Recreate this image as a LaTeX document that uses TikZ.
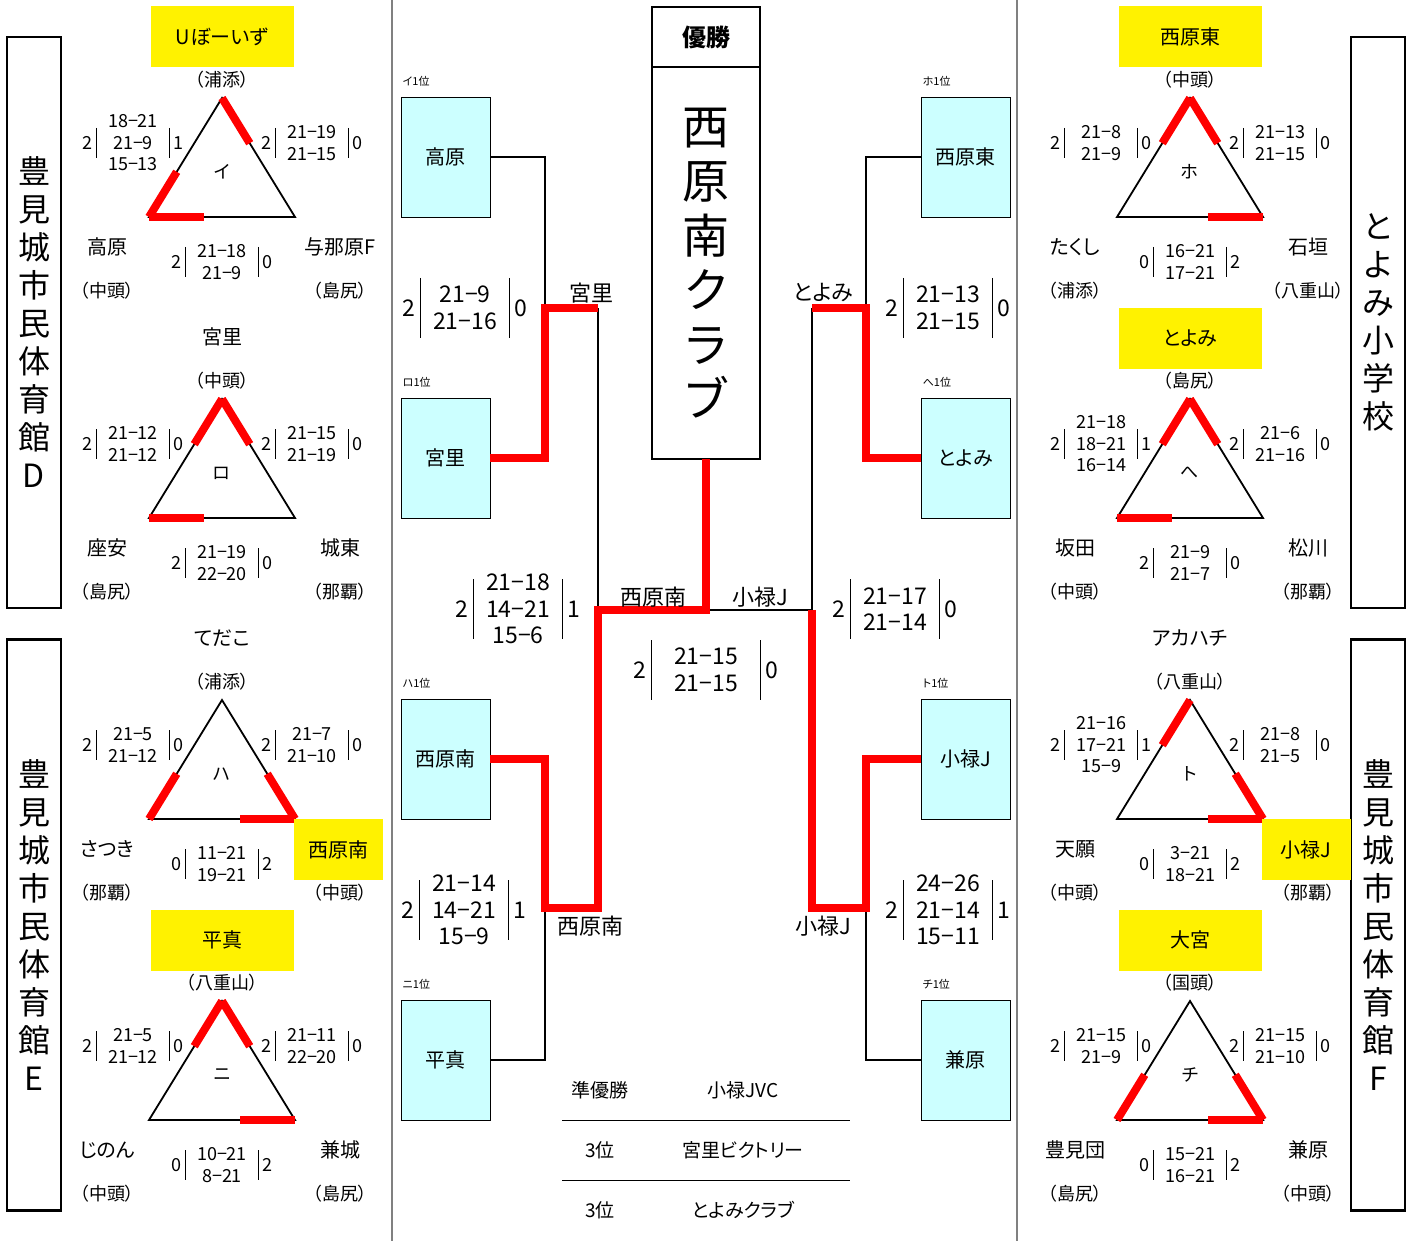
\documentclass[tikz,border=0pt]{standalone}
\usepackage{fontspec}
\setmainfont[RawFeature=+palt]{Noto Sans CJK JP}
\usetikzlibrary{positioning,calc}
\definecolor{qualcyan}{HTML}{CCFFFF}
\newcommand\namefont{\fontsize{20}{22}\selectfont}
\newcommand\preffont{\fontsize{18}{20}\selectfont}
\newcommand\kanafont{\fontsize{18}{20}\selectfont}
\newcommand\scorefont{\fontsize{18}{21.5}\selectfont}
\newcommand\bscorefont{\fontsize{23}{26.5}\selectfont}
\newcommand\bnamefont{\fontsize{22}{24}\selectfont}
\newcommand\hallfont{\fontsize{32}{38}\selectfont}
\newcommand\champfont{\fontsize{47}{54.5}\selectfont}
\newcommand\headfont{\fontsize{24}{28}\selectfont\bfseries}
\newcommand\rankfont{\fontsize{11}{12}\selectfont}
\newcommand\tblfont{\fontsize{19}{21}\selectfont}
\newcommand\scorebars[2]{\draw[scorebar] ([yshift=#2]#1.west) -- ([yshift=-#2]#1.west) ([yshift=#2]#1.east) -- ([yshift=-#2]#1.east);}
\tikzset{
  triedge/.style={line width=1.8pt},
  win/.style={red, line width=8pt},
  bline/.style={line width=2pt},
  scorebar/.style={line width=1pt},
  divider/.style={gray, line width=1.5pt},
  tblrule/.style={line width=1pt},
  team/.style={font=\namefont, inner sep=0pt},
  pref/.style={font=\preffont, inner sep=0pt},
  kana/.style={font=\kanafont, inner sep=0pt},
  seed/.style={fill=yellow, minimum width=143, minimum height=61, font=\namefont, inner sep=0pt},
  seedside/.style={seed, minimum width=89},
  score/.style={font=\scorefont, align=center, minimum width=72, inner sep=0pt},
  num/.style={font=\scorefont, inner sep=0pt},
  hall/.style={draw, line width=2.2pt, minimum width=54, minimum height=571, align=center, font=\hallfont, inner sep=0pt},
  qualbox/.style={draw, fill=qualcyan, line width=0.8pt, minimum width=89, minimum height=120, font=\namefont, inner sep=0pt},
  rank/.style={font=\rankfont, inner sep=0pt},
  bname/.style={font=\bnamefont, inner sep=0pt},
  bscore/.style={font=\bscorefont, align=center, minimum width=89, inner sep=0pt},
  bnum/.style={font=\bscorefont, inner sep=0pt},
  headbox/.style={draw, line width=2pt, outer sep=0pt, minimum width=108, minimum height=60, font=\headfont, inner sep=0pt},
  champbox/.style={draw, line width=2pt, outer sep=0pt, minimum width=108, minimum height=392, align=center, font=\champfont, inner sep=0pt},
  tbl/.style={font=\tblfont, inner sep=0pt}
}
\begin{document}
\begin{tikzpicture}[x=1pt,y=-1pt]
  \useasboundingbox (0,0) rectangle (1413,1241);
  \fill[white] (0,0) rectangle (1413,1241);

  % dividers and halls
  \coordinate (divLt) at (392,0);
  \coordinate (divLb) at (392,1241);
  \coordinate (divRt) at (1017,0);
  \coordinate (divRb) at (1017,1241);
  \draw[divider] (divLt) -- (divLb);
  \draw[divider] (divRt) -- (divRb);
  \node[hall] (hallD) at (34,322.5) {豊\\見\\城\\市\\民\\体\\育\\館\\D};
  \node[hall] (hallE) at (34,925) {豊\\見\\城\\市\\民\\体\\育\\館\\E};
  \node[hall] (hallT) at (1378,322.5) {と\\よ\\み\\小\\学\\校};
  \node[hall] (hallF) at (1378,925) {豊\\見\\城\\市\\民\\体\\育\\館\\F};

  % group I
  \begin{scope}[shift={(222,98)}]
    \coordinate (iA) at (0,0);
    \coordinate (iB) at (-73,119);
    \coordinate (iC) at (73,119);
    \draw[triedge] (iA) -- (iB) -- (iC) -- cycle;
    \draw[win] (iB) -- ($(iB)!0.38!(iA)$);
    \draw[win] (iA) -- ($(iA)!0.38!(iC)$);
    \draw[win] (iB) -- ($(iB)!0.38!(iC)$);
    \node[seed] (iTop) at (0,-61) {Uぼーいず};
    \node[pref] (iTopP) at (0,-18) {（浦添）};
    \node[kana] (iK) at (0,74) {イ};
    \node[score] (iL) at (-89,45) {18−21\\21−9\\15−13};
    \node[num, left=4pt of iL] (iL1) {2};
    \node[num, right=4pt of iL] (iL2) {1};
    \node[score] (iR) at (90,45) {21−19\\21−15};
    \node[num, left=4pt of iR] (iR1) {2};
    \node[num, right=4pt of iR] (iR2) {0};
    \node[score] (iM) at (0,164) {21−18\\21−9};
    \node[num, left=4pt of iM] (iM1) {2};
    \node[num, right=4pt of iM] (iM2) {0};
    \node[team] (iBL) at (-115,149) {高原};
    \node[pref] (iBLP) at (-115,193) {（中頭）};
    \node[team] (iBR) at (118,149) {与那原F};
    \node[pref] (iBRP) at (118,193) {（島尻）};
    \scorebars{iL}{15pt}
    \scorebars{iR}{15pt}
    \scorebars{iM}{15pt}
  \end{scope}

  % group RO
  \begin{scope}[shift={(222,399)}]
    \coordinate (roA) at (0,0);
    \coordinate (roB) at (-73,119);
    \coordinate (roC) at (73,119);
    \draw[triedge] (roA) -- (roB) -- (roC) -- cycle;
    \draw[win] (roA) -- ($(roA)!0.38!(roB)$);
    \draw[win] (roA) -- ($(roA)!0.38!(roC)$);
    \draw[win] (roB) -- ($(roB)!0.38!(roC)$);
    \node[team] (roTop) at (0,-62) {宮里};
    \node[pref] (roTopP) at (0,-18) {（中頭）};
    \node[kana] (roK) at (0,74) {ロ};
    \node[score] (roL) at (-89,45) {21−12\\21−12};
    \node[num, left=4pt of roL] (roL1) {2};
    \node[num, right=4pt of roL] (roL2) {0};
    \node[score] (roR) at (90,45) {21−15\\21−19};
    \node[num, left=4pt of roR] (roR1) {2};
    \node[num, right=4pt of roR] (roR2) {0};
    \node[score] (roM) at (0,164) {21−19\\22−20};
    \node[num, left=4pt of roM] (roM1) {2};
    \node[num, right=4pt of roM] (roM2) {0};
    \node[team] (roBL) at (-115,149) {座安};
    \node[pref] (roBLP) at (-115,193) {（島尻）};
    \node[team] (roBR) at (118,149) {城東};
    \node[pref] (roBRP) at (118,193) {（那覇）};
    \scorebars{roL}{15pt}
    \scorebars{roR}{15pt}
    \scorebars{roM}{15pt}
  \end{scope}

  % group HA
  \begin{scope}[shift={(222,700)}]
    \coordinate (haA) at (0,0);
    \coordinate (haB) at (-73,119);
    \coordinate (haC) at (73,119);
    \draw[triedge] (haA) -- (haB) -- (haC) -- cycle;
    \draw[win] (haB) -- ($(haB)!0.38!(haA)$);
    \draw[win] (haC) -- ($(haC)!0.38!(haA)$);
    \draw[win] (haC) -- ($(haC)!0.38!(haB)$);
    \node[team] (haTop) at (0,-62) {てだこ};
    \node[pref] (haTopP) at (0,-18) {（浦添）};
    \node[kana] (haK) at (0,74) {ハ};
    \node[score] (haL) at (-89,45) {21−5\\21−12};
    \node[num, left=4pt of haL] (haL1) {2};
    \node[num, right=4pt of haL] (haL2) {0};
    \node[score] (haR) at (90,45) {21−7\\21−10};
    \node[num, left=4pt of haR] (haR1) {2};
    \node[num, right=4pt of haR] (haR2) {0};
    \node[score] (haM) at (0,164) {11−21\\19−21};
    \node[num, left=4pt of haM] (haM1) {0};
    \node[num, right=4pt of haM] (haM2) {2};
    \node[team] (haBL) at (-115,149) {さつき};
    \node[pref] (haBLP) at (-115,193) {（那覇）};
    \node[seedside] (haBR) at (116.5,149.5) {西原南};
    \node[pref] (haBRP) at (118,193) {（中頭）};
    \scorebars{haL}{15pt}
    \scorebars{haR}{15pt}
    \scorebars{haM}{15pt}
  \end{scope}

  % group NI
  \begin{scope}[shift={(222,1001)}]
    \coordinate (niA) at (0,0);
    \coordinate (niB) at (-73,119);
    \coordinate (niC) at (73,119);
    \draw[triedge] (niA) -- (niB) -- (niC) -- cycle;
    \draw[win] (niA) -- ($(niA)!0.38!(niB)$);
    \draw[win] (niA) -- ($(niA)!0.38!(niC)$);
    \draw[win] (niC) -- ($(niC)!0.38!(niB)$);
    \node[seed] (niTop) at (0,-61) {平真};
    \node[pref] (niTopP) at (0,-18) {（八重山）};
    \node[kana] (niK) at (0,74) {ニ};
    \node[score] (niL) at (-89,45) {21−5\\21−12};
    \node[num, left=4pt of niL] (niL1) {2};
    \node[num, right=4pt of niL] (niL2) {0};
    \node[score] (niR) at (90,45) {21−11\\22−20};
    \node[num, left=4pt of niR] (niR1) {2};
    \node[num, right=4pt of niR] (niR2) {0};
    \node[score] (niM) at (0,164) {10−21\\8−21};
    \node[num, left=4pt of niM] (niM1) {0};
    \node[num, right=4pt of niM] (niM2) {2};
    \node[team] (niBL) at (-115,149) {じのん};
    \node[pref] (niBLP) at (-115,193) {（中頭）};
    \node[team] (niBR) at (118,149) {兼城};
    \node[pref] (niBRP) at (118,193) {（島尻）};
    \scorebars{niL}{15pt}
    \scorebars{niR}{15pt}
    \scorebars{niM}{15pt}
  \end{scope}

  % group HO
  \begin{scope}[shift={(1190,98)}]
    \coordinate (hoA) at (0,0);
    \coordinate (hoB) at (-73,119);
    \coordinate (hoC) at (73,119);
    \draw[triedge] (hoA) -- (hoB) -- (hoC) -- cycle;
    \draw[win] (hoA) -- ($(hoA)!0.38!(hoB)$);
    \draw[win] (hoA) -- ($(hoA)!0.38!(hoC)$);
    \draw[win] (hoC) -- ($(hoC)!0.38!(hoB)$);
    \node[seed] (hoTop) at (0,-61) {西原東};
    \node[pref] (hoTopP) at (0,-18) {（中頭）};
    \node[kana] (hoK) at (0,74) {ホ};
    \node[score] (hoL) at (-89,45) {21−8\\21−9};
    \node[num, left=4pt of hoL] (hoL1) {2};
    \node[num, right=4pt of hoL] (hoL2) {0};
    \node[score] (hoR) at (90,45) {21−13\\21−15};
    \node[num, left=4pt of hoR] (hoR1) {2};
    \node[num, right=4pt of hoR] (hoR2) {0};
    \node[score] (hoM) at (0,164) {16−21\\17−21};
    \node[num, left=4pt of hoM] (hoM1) {0};
    \node[num, right=4pt of hoM] (hoM2) {2};
    \node[team] (hoBL) at (-115,149) {たくし};
    \node[pref] (hoBLP) at (-115,193) {（浦添）};
    \node[team] (hoBR) at (118,149) {石垣};
    \node[pref] (hoBRP) at (118,193) {（八重山）};
    \scorebars{hoL}{15pt}
    \scorebars{hoR}{15pt}
    \scorebars{hoM}{15pt}
  \end{scope}

  % group HE
  \begin{scope}[shift={(1190,399)}]
    \coordinate (heA) at (0,0);
    \coordinate (heB) at (-73,119);
    \coordinate (heC) at (73,119);
    \draw[triedge] (heA) -- (heB) -- (heC) -- cycle;
    \draw[win] (heA) -- ($(heA)!0.38!(heB)$);
    \draw[win] (heA) -- ($(heA)!0.38!(heC)$);
    \draw[win] (heB) -- ($(heB)!0.38!(heC)$);
    \node[seed] (heTop) at (0,-61) {とよみ};
    \node[pref] (heTopP) at (0,-18) {（島尻）};
    \node[kana] (heK) at (0,74) {へ};
    \node[score] (heL) at (-89,45) {21−18\\18−21\\16−14};
    \node[num, left=4pt of heL] (heL1) {2};
    \node[num, right=4pt of heL] (heL2) {1};
    \node[score] (heR) at (90,45) {21−6\\21−16};
    \node[num, left=4pt of heR] (heR1) {2};
    \node[num, right=4pt of heR] (heR2) {0};
    \node[score] (heM) at (0,164) {21−9\\21−7};
    \node[num, left=4pt of heM] (heM1) {2};
    \node[num, right=4pt of heM] (heM2) {0};
    \node[team] (heBL) at (-115,149) {坂田};
    \node[pref] (heBLP) at (-115,193) {（中頭）};
    \node[team] (heBR) at (118,149) {松川};
    \node[pref] (heBRP) at (118,193) {（那覇）};
    \scorebars{heL}{15pt}
    \scorebars{heR}{15pt}
    \scorebars{heM}{15pt}
  \end{scope}

  % group TO
  \begin{scope}[shift={(1190,700)}]
    \coordinate (toA) at (0,0);
    \coordinate (toB) at (-73,119);
    \coordinate (toC) at (73,119);
    \draw[triedge] (toA) -- (toB) -- (toC) -- cycle;
    \draw[win] (toA) -- ($(toA)!0.38!(toB)$);
    \draw[win] (toC) -- ($(toC)!0.38!(toA)$);
    \draw[win] (toC) -- ($(toC)!0.38!(toB)$);
    \node[team] (toTop) at (0,-62) {アカハチ};
    \node[pref] (toTopP) at (0,-18) {（八重山）};
    \node[kana] (toK) at (0,74) {ト};
    \node[score] (toL) at (-89,45) {21−16\\17−21\\15−9};
    \node[num, left=4pt of toL] (toL1) {2};
    \node[num, right=4pt of toL] (toL2) {1};
    \node[score] (toR) at (90,45) {21−8\\21−5};
    \node[num, left=4pt of toR] (toR1) {2};
    \node[num, right=4pt of toR] (toR2) {0};
    \node[score] (toM) at (0,164) {3−21\\18−21};
    \node[num, left=4pt of toM] (toM1) {0};
    \node[num, right=4pt of toM] (toM2) {2};
    \node[team] (toBL) at (-115,149) {天願};
    \node[pref] (toBLP) at (-115,193) {（中頭）};
    \node[seedside] (toBR) at (116,149.5) {小禄J};
    \node[pref] (toBRP) at (118,193) {（那覇）};
    \scorebars{toL}{15pt}
    \scorebars{toR}{15pt}
    \scorebars{toM}{15pt}
  \end{scope}

  % group CHI
  \begin{scope}[shift={(1190,1001)}]
    \coordinate (chiA) at (0,0);
    \coordinate (chiB) at (-73,119);
    \coordinate (chiC) at (73,119);
    \draw[triedge] (chiA) -- (chiB) -- (chiC) -- cycle;
    \draw[win] (chiB) -- ($(chiB)!0.38!(chiA)$);
    \draw[win] (chiC) -- ($(chiC)!0.38!(chiA)$);
    \draw[win] (chiC) -- ($(chiC)!0.38!(chiB)$);
    \node[seed] (chiTop) at (0,-61) {大宮};
    \node[pref] (chiTopP) at (0,-18) {（国頭）};
    \node[kana] (chiK) at (0,74) {チ};
    \node[score] (chiL) at (-89,45) {21−15\\21−9};
    \node[num, left=4pt of chiL] (chiL1) {2};
    \node[num, right=4pt of chiL] (chiL2) {0};
    \node[score] (chiR) at (90,45) {21−15\\21−10};
    \node[num, left=4pt of chiR] (chiR1) {2};
    \node[num, right=4pt of chiR] (chiR2) {0};
    \node[score] (chiM) at (0,164) {15−21\\16−21};
    \node[num, left=4pt of chiM] (chiM1) {0};
    \node[num, right=4pt of chiM] (chiM2) {2};
    \node[team] (chiBL) at (-115,149) {豊見団};
    \node[pref] (chiBLP) at (-115,193) {（島尻）};
    \node[team] (chiBR) at (118,149) {兼原};
    \node[pref] (chiBRP) at (118,193) {（中頭）};
    \scorebars{chiL}{15pt}
    \scorebars{chiR}{15pt}
    \scorebars{chiM}{15pt}
  \end{scope}

  % bracket
  \node[qualbox] (takahara) at (445.5,157) {高原};
  \node[qualbox] (miyazato) at (445.5,458) {宮里};
  \node[qualbox] (nishiminami) at (445.5,759) {西原南};
  \node[qualbox] (hirazane) at (445.5,1060) {平真};
  \node[qualbox] (nishihigashi) at (965.5,157) {西原東};
  \node[qualbox] (toyomi) at (965.5,458) {とよみ};
  \node[qualbox] (oroku) at (965.5,759) {小禄J};
  \node[qualbox] (kanehara) at (965.5,1060) {兼原};
  \node[rank, above right=10pt and 2pt of takahara.north west] (rankI) {イ1位};
  \node[rank, above right=10pt and 2pt of miyazato.north west] (rankRo) {ロ1位};
  \node[rank, above right=10pt and 2pt of nishiminami.north west] (rankHa) {ハ1位};
  \node[rank, above right=10pt and 2pt of hirazane.north west] (rankNi) {ニ1位};
  \node[rank, above right=10pt and 2pt of nishihigashi.north west] (rankHo) {ホ1位};
  \node[rank, above right=10pt and 2pt of toyomi.north west] (rankHe) {へ1位};
  \node[rank, above right=10pt and 2pt of oroku.north west] (rankTo) {ト1位};
  \node[rank, above right=10pt and 2pt of kanehara.north west] (rankChi) {チ1位};

  \node[headbox] (yusho) at (706,37) {優勝};
  \node[champbox, below=0pt of yusho] (champ) {西\\原\\南\\ク\\ラ\\ブ};

  \coordinate (qa) at (545,308);
  \coordinate (sa) at (598,308);
  \coordinate (qb) at (545,908);
  \coordinate (sb) at (598,908);
  \coordinate (sfl) at (598,610);
  \coordinate (fin) at (706,610);
  \coordinate (sfr) at (812,610);
  \coordinate (sc) at (812,308);
  \coordinate (qc) at (866,308);
  \coordinate (sd) at (812,908);
  \coordinate (qd) at (866,908);
  \draw[bline] (takahara.east) -| (qa);
  \draw[bline] (hirazane.east) -| (qb);
  \draw[bline] (sa) -- (sfl);
  \draw[bline] (fin) -- (sfr) -- (sc);
  \draw[bline] (nishihigashi.west) -| (qc);
  \draw[bline] (kanehara.west) -| (qd);
  \draw[win] (miyazato.east) -| (qa) -- (sa);
  \draw[win] (nishiminami.east) -| (qb) -- (sb) -- (sfl) -- (fin) -- (champ.south);
  \draw[win] (toyomi.west) -| (qc) -- (sc);
  \draw[win] (oroku.west) -| (qd) -- (sd) -- (sfr);

  \node[bname] (wMiyazato) at (591,293) {宮里};
  \node[bname] (wToyomi) at (823,293) {とよみ};
  \node[bname] (wNishiU) at (653,597) {西原南};
  \node[bname] (wOrokuU) at (760,597) {小禄J};
  \node[bname] (wNishiL) at (590,926) {西原南};
  \node[bname] (wOrokuL) at (823,926) {小禄J};

  \node[bscore] (scQA) at (465,308) {21−9\\21−16};
  \node[bnum, left=5pt of scQA] (scQA1) {2};
  \node[bnum, right=5pt of scQA] (scQA2) {0};
  \node[bscore] (scQB) at (464,910) {21−14\\14−21\\15−9};
  \node[bnum, left=5pt of scQB] (scQB1) {2};
  \node[bnum, right=5pt of scQB] (scQB2) {1};
  \node[bscore] (scQC) at (948,308) {21−13\\21−15};
  \node[bnum, left=5pt of scQC] (scQC1) {2};
  \node[bnum, right=5pt of scQC] (scQC2) {0};
  \node[bscore] (scQD) at (948,910) {24−26\\21−14\\15−11};
  \node[bnum, left=5pt of scQD] (scQD1) {2};
  \node[bnum, right=5pt of scQD] (scQD2) {1};
  \node[bscore] (scSL) at (518,609) {21−18\\14−21\\15−6};
  \node[bnum, left=5pt of scSL] (scSL1) {2};
  \node[bnum, right=5pt of scSL] (scSL2) {1};
  \node[bscore] (scSR) at (895,609) {21−17\\21−14};
  \node[bnum, left=5pt of scSR] (scSR1) {2};
  \node[bnum, right=5pt of scSR] (scSR2) {0};
  \node[bscore, minimum width=108] (scFin) at (706,670) {21−15\\21−15};
  \node[bnum, left=5pt of scFin] (scFin1) {2};
  \node[bnum, right=5pt of scFin] (scFin2) {0};
  \scorebars{scQA}{30pt}
  \scorebars{scQB}{30pt}
  \scorebars{scQC}{30pt}
  \scorebars{scQD}{30pt}
  \scorebars{scSL}{30pt}
  \scorebars{scSR}{30pt}
  \scorebars{scFin}{30pt}

  % standings
  \node[tbl] (t1a) at (600,1090) {準優勝};
  \node[tbl] (t1b) at (743,1090) {小禄JVC};
  \node[tbl] (t2a) at (600,1150) {3位};
  \node[tbl] (t2b) at (743,1150) {宮里ビクトリー};
  \node[tbl] (t3a) at (600,1210) {3位};
  \node[tbl] (t3b) at (743,1210) {とよみクラブ};
  \coordinate (r1a) at (562,1120);
  \coordinate (r1b) at (850,1120);
  \coordinate (r2a) at (562,1180);
  \coordinate (r2b) at (850,1180);
  \draw[tblrule] (r1a) -- (r1b);
  \draw[tblrule] (r2a) -- (r2b);
\end{tikzpicture}
\end{document}
